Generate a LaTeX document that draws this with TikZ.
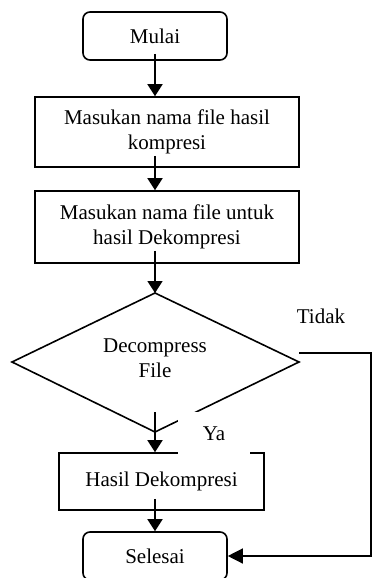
\documentclass[tikz,border=0pt]{standalone}
\usepackage{fontspec}
\setmainfont{Liberation Serif}
\usetikzlibrary{arrows.meta,calc}
\begin{document}
\begin{tikzpicture}[x=1pt,y=-1pt,
  every node/.style={font=\fontsize{21}{25}\selectfont, align=center, inner sep=0pt},
  term/.style={draw, line width=1.6pt, rounded corners=7pt, minimum width=144pt, minimum height=48pt},
  proc/.style={draw, line width=1.6pt},
  arr/.style={line width=1.6pt, -{Triangle[length=12pt,width=15pt]}},
  arrthin/.style={line width=1.3pt, -{Triangle[length=15pt,width=15pt]}}]
\useasboundingbox (0,0) rectangle (372,578);
\clip (0,0) rectangle (372,578);
% nodes
\node[term] (mulai) at (155,36) {Mulai};
\node[proc, minimum width=264pt, minimum height=70pt] (box1) at (167,132) {Masukan nama file hasil\\kompresi};
\node[proc, minimum width=264pt, minimum height=72pt] (box2) at (167,227) {Masukan nama file untuk\\hasil Dekompresi};
% decision diamond
\coordinate (dtop) at (155,293);
\coordinate (dbot) at (155,432);
\coordinate (dleft) at (12,362);
\coordinate (dright) at (299,362);
\draw[line width=1.6pt, line join=miter] (dtop) -- (dright) -- (dbot) -- (dleft) -- cycle;
\node (dec) at (155,358) {Decompress\\File};
\node[proc, minimum width=205pt, minimum height=57pt] (hasil) at (161.5,481.5) {Hasil Dekompresi};
\node[term, minimum height=48pt] (selesai) at (155,556) {Selesai};
% connectors
\draw[arr] ($(mulai.south)+(0,7pt)$) -- (box1.north -| mulai.south);
\draw[arr] ($(box1.south -| mulai.south)+(0,12pt)$) -- (box2.north -| mulai.south);
\draw[arr] ($(box2.south -| mulai.south)+(0,13pt)$) -- (dtop);
\draw[arr] ($(dbot)+(0,20pt)$) -- (hasil.north -| dbot);
\draw[arr] ($(hasil.south -| dbot)+(0,12pt)$) -- (selesai.north);
\coordinate (dno) at ($(dright)+(0,9pt)$);
\coordinate (rx) at (371,450);
\draw[arrthin] (dno) -| (rx) |- (selesai.east);
% labels
\node (tidak) at (321,316) {Tidak};
\node[fill=white, minimum width=72pt, minimum height=44pt] (ya) at (214,434) {Ya};
\end{tikzpicture}
\end{document}
